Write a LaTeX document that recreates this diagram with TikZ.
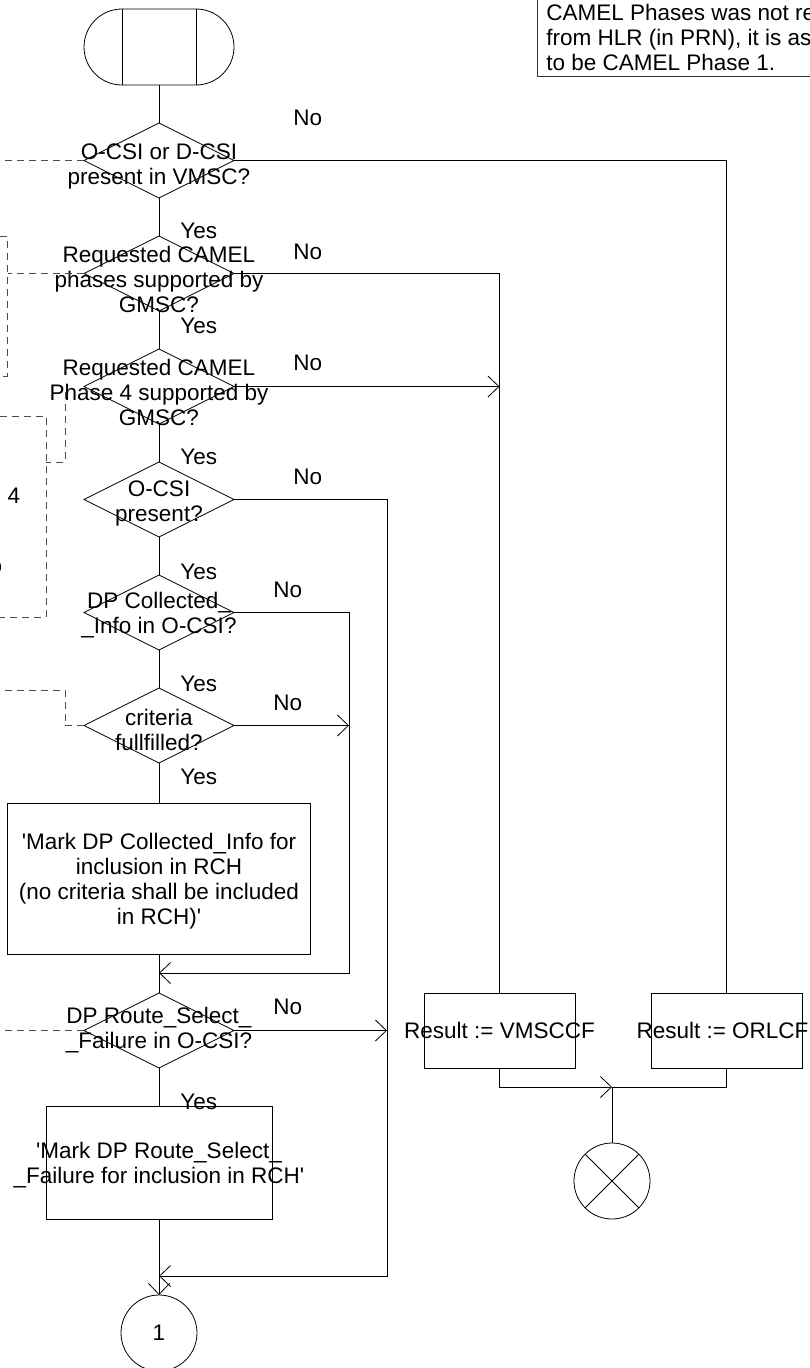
\documentclass[tikz,border=0pt]{standalone}
\usepackage{fontspec}
\setmainfont{Liberation Sans}
\usetikzlibrary{shapes.geometric, shapes.misc, arrows.meta, positioning}

\begin{document}
\begin{tikzpicture}[
  x=1pt, y=-1pt,
  font=\fontsize{22.5}{25}\selectfont,
  line width=0.8pt,
  startsym/.style={rounded rectangle, draw, minimum width=150pt, minimum height=76pt, inner sep=0pt, outer sep=0pt},
  decision/.style={diamond, draw, minimum width=150pt, minimum height=75pt, inner sep=0pt, outer sep=0pt},
  task/.style={rectangle, draw, inner sep=0pt, outer sep=0pt},
  conn/.style={circle, draw, minimum size=76pt, inner sep=0pt, outer sep=0pt},
  txt/.style={align=center, inner sep=0pt},
  yn/.style={anchor=west, inner sep=0pt},
  comment/.style={draw=black!70, dash pattern=on 7pt off 5pt},
  arrow/.style={-{Straight Barb[length=11pt,width=21pt]}}
]
\useasboundingbox (0,0) rectangle (810,1368);
\clip (0,0) rectangle (810,1368);

% main column
\node[startsym] (start) at (159,47) {};
\draw ([xshift=-37pt]start.north) -- ([xshift=-37pt]start.south)
      ([xshift=37pt]start.north) -- ([xshift=37pt]start.south);
\node[decision, below=38pt of start] (d1) {};
\node[decision, below=38pt of d1] (d2) {};
\node[decision, below=38pt of d2] (d3) {};
\node[decision, below=38pt of d3] (d4) {};
\node[decision, below=38pt of d4] (d5) {};
\node[decision, below=38pt of d5] (d6) {};
\node[task, minimum width=303pt, minimum height=151pt, below=40pt of d6] (mark1) {};
\node[decision, below=39pt of mark1] (d7) {};
\node[task, minimum width=226pt, minimum height=113pt, below=38pt of d7] (mark2) {};
\node[conn, below=76pt of mark2] (c1) {1};

\node[txt] (d1t) at ([yshift=-6pt]d1) {O-CSI or D-CSI\\present in VMSC?};
\node[txt] (d2t) at ([yshift=-6pt]d2) {Requested CAMEL\\phases supported by\\GMSC?};
\node[txt] (d3t) at ([yshift=-6pt]d3) {Requested CAMEL\\Phase 4 supported by\\GMSC?};
\node[txt] (d4t) at ([yshift=-4pt]d4) {O-CSI\\present?};
\node[txt] (d5t) at ([yshift=-3pt]d5) {DP Collected\_\\\_Info in O-CSI?};
\node[txt] (d6t) at ([yshift=-4pt]d6) {criteria\\fullfilled?};
\node[txt] (m1t) at ([yshift=-3pt]mark1) {\textquotesingle Mark DP Collected\_Info for\\inclusion in RCH\\(no criteria shall be included\\in RCH)\textquotesingle};
\node[txt] (d7t) at (d7) {DP Route\_Select\_\\\_Failure in O-CSI?};
\node[txt] (m2t) at ([yshift=-3pt]mark2) {\textquotesingle Mark DP Route\_Select\_\\\_Failure for inclusion in RCH\textquotesingle};

% results and stop
\node[task, minimum width=151pt, minimum height=75pt, right=190pt of d7] (vmsc) {};
\node[task, minimum width=151pt, minimum height=75pt, right=76pt of vmsc] (orlc) {};
\node[txt] (vmsct) at (vmsc) {Result := VMSCCF};
\node[txt] (orlct) at ([xshift=-4pt]orlc) {Result := ORLCF};
\coordinate (join) at (612,1087);
\node[conn, below=56pt of join] (stop) {};
\draw (stop.north west) -- (stop.south east) (stop.north east) -- (stop.south west);

% yes / no
\node[yn] (no1) at (293,117.5) {No};
\node[yn] (no2) at (293,252) {No};
\node[yn] (no3) at (293,363) {No};
\node[yn] (no4) at (293,477) {No};
\node[yn] (no5) at (273,590) {No};
\node[yn] (no6) at (273,703) {No};
\node[yn] (no7) at (273,1007) {No};
\node[yn] (yes1) at (180,231) {Yes};
\node[yn] (yes2) at (180,326) {Yes};
\node[yn] (yes3) at (180,457) {Yes};
\node[yn] (yes4) at (180,572) {Yes};
\node[yn] (yes5) at (180,684) {Yes};
\node[yn] (yes6) at (180,777) {Yes};
\node[yn] (yes7) at (180,1102) {Yes};

% flow lines
\draw (start) -- (d1);
\draw (d1) -- (d2);
\draw (d2) -- (d3);
\draw (d3) -- (d4);
\draw (d4) -- (d5);
\draw (d5) -- (d6);
\draw (d6) -- (mark1);
\draw (mark1) -- (d7);
\draw (d7) -- (mark2);
\draw[arrow] (mark2) -- (c1);
\coordinate (m1) at ([yshift=-19pt]mark1.south);
\coordinate (m2) at ([yshift=-57pt]mark2.south);
\draw (d1.east) -| (orlc.north);
\draw (d2.east) -| (vmsc.north);
\draw[arrow] (d3.east) -- (d3.east -| vmsc.north);
\draw[arrow] (d4.east) -- ++(153,0) |- (m2);
\draw[arrow] (d5.east) -- ++(115,0) |- (m1);
\draw[arrow] (d6.east) -- ++(115,0);
\draw[arrow] (d7.east) -- ++(153,0);
\draw[arrow] (vmsc.south) |- (join);
\draw (orlc.south) |- (join);
\draw (join) -- (stop);

% comments, cut by the left edge
\draw[comment] (d1.west) -- ++(-84,0);
\draw[comment] (0,236) -| (7,376) -- (0,376);
\draw[comment] (d2.west) -- ++(-76,0);
\draw[comment] (0,416) -| (46,617) -- (0,617);
\draw[comment] (65,392) |- (46,462);
\node[inner sep=0pt] (c4) at (14,496) {4};
\node[inner sep=0pt] (co) at (-4,568) {o};
\draw[comment] (d6.west) -- ++(-19,0) |- (0,690);
\draw[comment] (d7.west) -- ++(-84,0);

% note, cut by the top and right edges
\draw[black!80] (537,-30) rectangle (860,76);
\node[anchor=west, align=left, inner sep=0pt] (note) at (546,37) {CAMEL Phases was not re\\from HLR (in PRN), it is as\\to be CAMEL Phase 1.};

\end{tikzpicture}
\end{document}
